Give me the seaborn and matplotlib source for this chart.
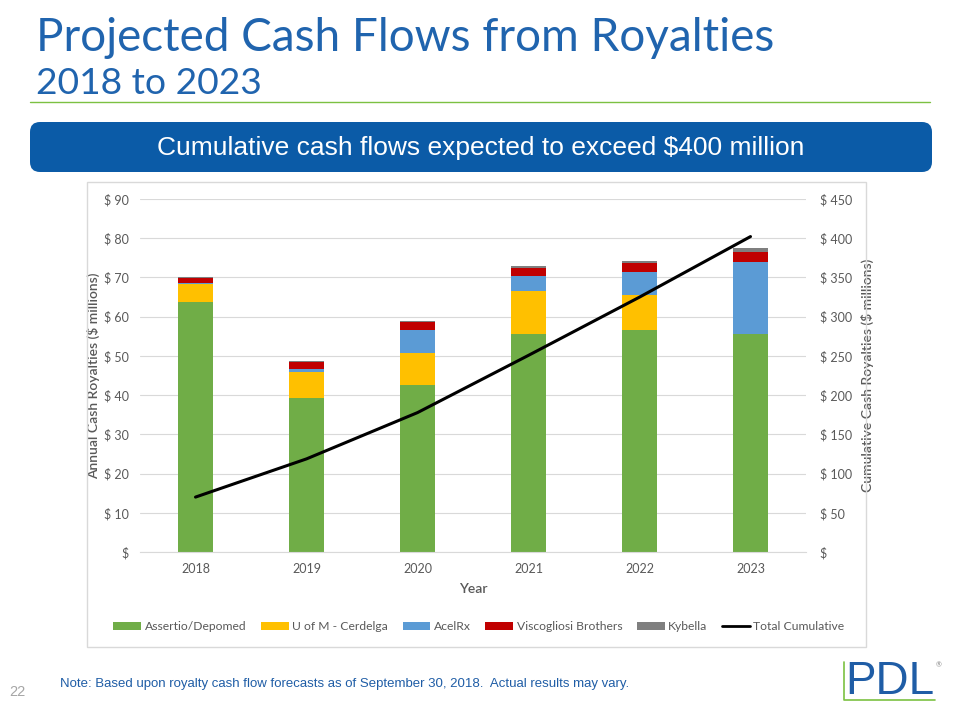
import numpy as np
import pandas as pd
import seaborn as sns
import matplotlib.pyplot as plt
from matplotlib.patches import Rectangle, FancyBboxPatch, Patch
from matplotlib.lines import Line2D

years = ['2018', '2019', '2020', '2021', '2022', '2023']
assertio = [63.7, 39.3, 42.5, 55.5, 56.7, 55.5]
uofm = [4.6, 6.7, 8.3, 11.0, 8.8, 0.2]
acelrx = [0.3, 0.6, 5.9, 3.8, 5.8, 18.2]
viscogliosi = [1.2, 1.9, 2.0, 2.1, 2.4, 2.7]
kybella = [0.2, 0.2, 0.3, 0.5, 0.6, 0.8]
cumulative = [70.0, 118.7, 177.7, 250.7, 324.9, 402.1]

series = ['Assertio/Depomed', 'U of M - Cerdelga', 'AcelRx', 'Viscogliosi Brothers', 'Kybella']
colors = ['#70AD47', '#FFC000', '#5B9BD5', '#C00000', '#7F7F7F']

df = pd.DataFrame({'Year': years, 'Assertio/Depomed': assertio, 'U of M - Cerdelga': uofm,
                   'AcelRx': acelrx, 'Viscogliosi Brothers': viscogliosi, 'Kybella': kybella})
stacked = df[series].cumsum(axis=1)

sns.set_style('white')
plt.rcParams['font.family'] = ['Lato', 'DejaVu Sans']

fig = plt.figure(figsize=(9.6, 7.2), dpi=100)
W, H = 960, 720

def fx(x):
    return x / W

def fy(y):
    return 1 - y / H

# header
fig.text(fx(36), fy(38), 'Projected Cash Flows from Royalties', fontsize=33, color='#2064AE',
         va='center', ha='left')
fig.text(fx(36), fy(83), '2018 to 2023', fontsize=26.8, color='#2064AE',
         va='center', ha='left')
fig.add_artist(Line2D([fx(30), fx(930)], [fy(102), fy(102)], color='#7CC142', lw=1))

banner = FancyBboxPatch((30, H - 172), 902, 50, boxstyle='round,pad=0,rounding_size=10',
                        transform=None, facecolor='#0B5BA7', edgecolor='none')
fig.add_artist(banner)
fig.text(fx(481), fy(148), 'Cumulative cash flows expected to exceed $400 million', fontsize=19,
         color='white', ha='center', va='center', family=['Liberation Sans'])

# chart border
fig.add_artist(Rectangle((fx(87), fy(647)), fx(866 - 87), (647 - 182) / H, transform=fig.transFigure,
                         facecolor='none', edgecolor='#D9D9D9', lw=1))

ax = fig.add_axes([fx(140), fy(552), fx(806 - 140), (552 - 199) / H])
for name, color in reversed(list(zip(series, colors))):
    sns.barplot(x=df['Year'], y=stacked[name], color=color, width=0.32, ax=ax,
                saturation=1, edgecolor='none', linewidth=0)

ax.set_ylim(0, 90)
ax.set_yticks(range(0, 91, 10))
ax.set_yticklabels(['$'] + [f'$ {v}' for v in range(10, 91, 10)])
ax.yaxis.grid(True, color='#D9D9D9', lw=0.8)
ax.set_axisbelow(True)
for s in ax.spines.values():
    s.set_visible(False)
ax.spines['bottom'].set_visible(True)
ax.spines['bottom'].set_color('#D9D9D9')
ax.tick_params(axis='both', length=0, labelsize=9, colors='#595959', pad=8)
ax.set_xlabel('Year', fontsize=10, color='#595959', fontweight='semibold', labelpad=6)
ax.set_ylabel('Annual Cash Royalties ($ millions)', fontsize=10, color='#595959',
              fontweight='semibold', labelpad=3)

ax2 = ax.twinx()
sns.lineplot(x=np.arange(len(years)), y=cumulative, color='black', lw=2.2, ax=ax2)
ax2.set_ylim(0, 450)
ax2.set_yticks(range(0, 451, 50))
ax2.set_yticklabels(['$'] + [f'$ {v}' for v in range(50, 451, 50)])
for s in ax2.spines.values():
    s.set_visible(False)
ax2.tick_params(axis='y', length=0, labelsize=9, colors='#595959', pad=10)
ax2.set_ylabel('Cumulative Cash Royalties ($ millions)', fontsize=10, color='#595959',
               fontweight='semibold', labelpad=6)
ax.set_xlim(-0.5, 5.5)

handles = [Patch(facecolor=c, edgecolor='none') for c in colors]
handles.append(Line2D([0], [0], color='black', lw=2))
fig.legend(handles, series + ['Total Cumulative'], loc='center', bbox_to_anchor=(fx(479), fy(627)),
           ncol=6, frameon=False, fontsize=8.7, handlelength=2.3, handleheight=0.6,
           columnspacing=1.2, handletextpad=0.3, labelcolor='#595959')

# footer
fig.text(fx(60), fy(684), 'Note: Based upon royalty cash flow forecasts as of September 30, 2018.  Actual results may vary.',
         fontsize=9.5, color='#1F5DA6', va='center', ha='left', family=['Liberation Sans'])
fig.text(fx(9), fy(692), '22', fontsize=10.5, color='#A6A6A6', va='center', ha='left',
         family=['Liberation Sans'])
fig.text(fx(845), fy(682), 'PDL', fontsize=33, color='#1F5DA6', va='center', ha='left',
         family=['Liberation Sans'])
fig.text(fx(936), fy(665), '®', fontsize=5, color='#888888', va='center', ha='left')
fig.add_artist(Line2D([fx(844), fx(844), fx(935)], [fy(662), fy(700), fy(700)],
                      color='#7CC142', lw=1.2))

fig.savefig('out.png', dpi=100)
